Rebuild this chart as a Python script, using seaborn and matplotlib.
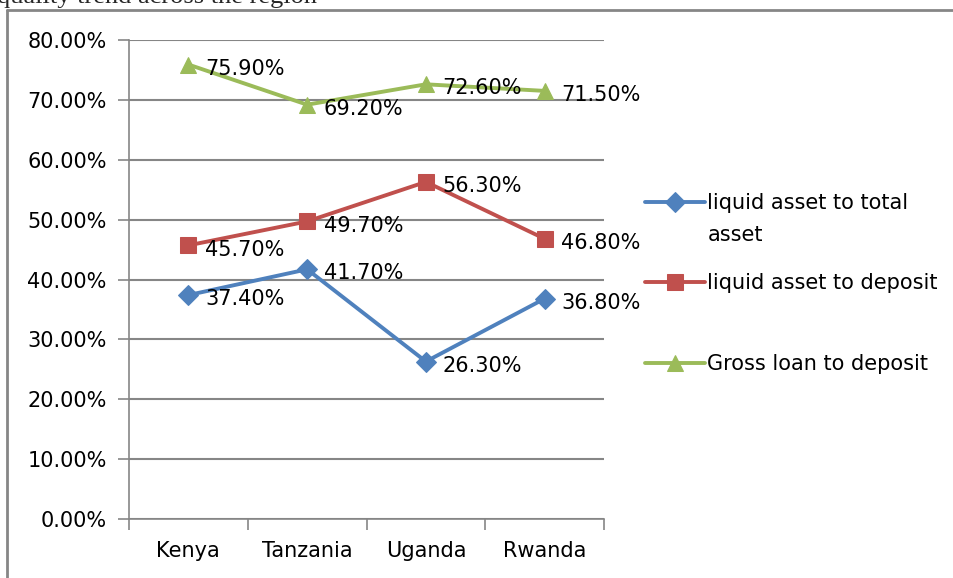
import numpy as np
import pandas as pd
import matplotlib
matplotlib.use('Agg')
import matplotlib.pyplot as plt
from matplotlib.lines import Line2D
from matplotlib.ticker import PercentFormatter, FixedLocator
import seaborn as sns

# data
countries = ['Kenya', 'Tanzania', 'Uganda', 'Rwanda']
liquid_total = [37.4, 41.7, 26.3, 36.8]
liquid_deposit = [45.7, 49.7, 56.3, 46.8]
gross_loan = [75.9, 69.2, 72.6, 71.5]
series_names = ['liquid asset to total', 'liquid asset to deposit', 'Gross loan to deposit']

colors = ['#4F81BD', '#C0504D', '#9BBB59']
markers = ['D', 's', '^']
msizes = [10, 11, 12]

sns.set_style('white')
plt.rcParams['font.family'] = ['DejaVu Sans']

fig = plt.figure(figsize=(9.54, 5.78), dpi=100)
ax = fig.add_axes([129/954, 59/578, 475/954, 479/578])

x = np.arange(len(countries))
for vals, name, c, m, ms in zip([liquid_total, liquid_deposit, gross_loan], series_names, colors, markers, msizes):
    sns.lineplot(x=x, y=vals, ax=ax, color=c, marker=m, markersize=ms, markeredgecolor=c,
                 linewidth=2.8, label=name)
    for xi, v in zip(x, vals):
        ax.annotate(f'{v:.2f}%', (xi, v), xytext=(12, -3), textcoords='offset points',
                    ha='left', va='center', fontsize=15, color='black')

ax.set_xlim(-0.5, 3.5)
ax.set_ylim(0, 80)
ax.set_yticks(np.arange(0, 81, 10))
ax.yaxis.set_major_formatter(PercentFormatter(decimals=2))
ax.set_xticks(x)
ax.set_xticklabels(countries)
ax.xaxis.set_minor_locator(FixedLocator(np.arange(-0.5, 3.6, 1)))
ax.tick_params(axis='x', which='major', length=0, pad=16, labelsize=15, labelcolor='black')
ax.tick_params(axis='x', which='minor', length=8, color='#868686', width=1.2, direction='out', bottom=True)
ax.tick_params(axis='y', length=8, color='#868686', width=1.2, direction='out', left=True, pad=8,
               labelsize=15, labelcolor='black')
ax.grid(axis='y', color='#868686', linewidth=1.5)
ax.set_axisbelow(True)
for s in ['top', 'right']:
    ax.spines[s].set_visible(False)
for s in ['left', 'bottom']:
    ax.spines[s].set_color('#868686')
    ax.spines[s].set_linewidth(1.2)

leg = ax.legend(loc='upper left', bbox_to_anchor=(645/954, 1 - 193/578), bbox_transform=fig.transFigure,
                frameon=False, fontsize=15, handlelength=2.9, handletextpad=0.1, labelspacing=2.9,
                borderpad=0, borderaxespad=0, labelcolor='black')

# wrapped second line of the first legend label
fig.canvas.draw()
bb = leg.get_texts()[0].get_window_extent()
fig.text(bb.x0/954, (bb.y0 - 32)/578, 'asset', fontsize=15, color='black', ha='left', va='bottom')

# chart border (cropped) and cut-off caption text above it
fig.add_artist(Line2D([7/954, 7/954], [0, 1 - 10/578], transform=fig.transFigure, color='#868686', linewidth=2))
fig.add_artist(Line2D([7/954, 1], [1 - 10/578, 1 - 10/578], transform=fig.transFigure, color='#868686', linewidth=2))
fig.text(-0.003, 1 - 3/578, 'quality trend across the region', family='Liberation Serif', fontsize=19,
         ha='left', va='baseline')

fig.savefig('out.png', dpi=100)
